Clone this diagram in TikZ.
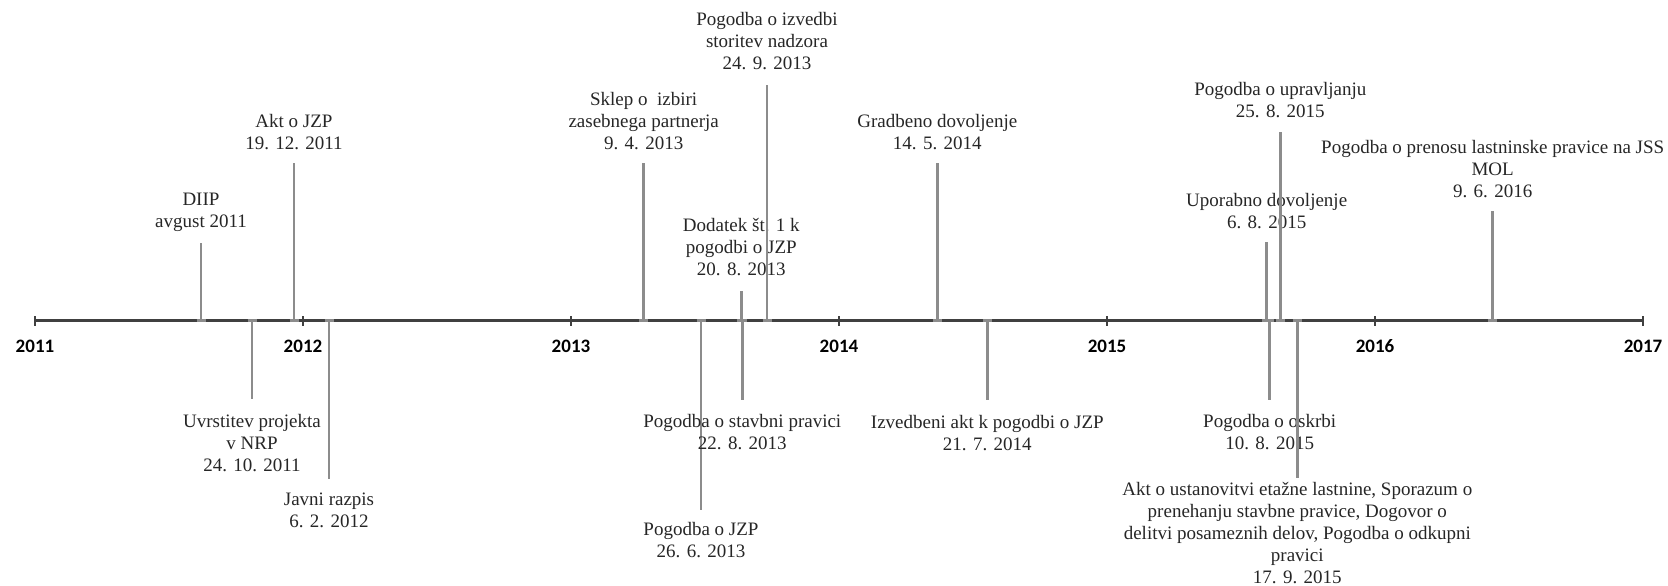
\documentclass[tikz,border=0pt]{standalone}
\usepackage{fontspec}
\setmainfont{Liberation Serif}
\newfontfamily\yearfont{Carlito}
\definecolor{axiscol}{HTML}{404040}
\definecolor{evcol}{HTML}{8C8C8C}
\definecolor{txtcol}{HTML}{262626}
\begin{document}
\begin{tikzpicture}[x=1pt,y=-1pt,
  axisline/.style={draw=axiscol,line width=2.2pt},
  yeartick/.style={draw=axiscol,line width=1.3pt},
  yearlbl/.style={font=\yearfont\bfseries\fontsize{19}{22}\selectfont,text=black,inner sep=0pt},
  evline/.style={draw=evcol,line width=2.5pt},
  evbase/.style={draw=evcol,line width=3pt},
  evlbl/.style={font=\fontsize{19}{22}\selectfont,text=txtcol,align=center,inner sep=0pt}]
\useasboundingbox (0,0) rectangle (1668,586);
% axis
\coordinate (a0) at (35,320.5);
\coordinate (a6) at (1643,320.5);
\draw[axisline] (a0) -- (a6);
\foreach \k/\yr in {0/2011,1/2012,2/2013,3/2014,4/2015,5/2016,6/2017}{
  \coordinate (y\yr) at (35+268*\k,320.5);
  \draw[yeartick] ([yshift=-5]y\yr) -- ([yshift=5]y\yr);
  \node[yearlbl] (yl\yr) at (35+268*\k,346.5) {\yr};
}
% events: name / x / line end y / label centre y / text
\foreach \n/\x/\e/\c/\t in {
  e1/201/243/211.9/{DIIP\\avgust 2011},
  e2/252/399/443.2/{Uvrstitev projekta\\v NRP\\24. 10. 2011},
  e3/294/163/132.3/{Akt o JZP\\19. 12. 2011},
  e4/329/479/510.8/{Javni razpis\\6. 2. 2012},
  e5/643.7/163/121.2/{Sklep o~ izbiri\\zasebnega partnerja\\9. 4. 2013},
  e6/701/510/540/{Pogodba o JZP\\26. 6. 2013},
  e7/741.3/291/247.2/{Dodatek št. 1 k\\pogodbi o JZP\\20. 8. 2013},
  e8/742.3/400/432.5/{Pogodba o stavbni pravici\\22. 8. 2013},
  e9/767/84.5/41/{Pogodba o izvedbi\\storitev nadzora\\24. 9. 2013},
  e10/937.3/163/131.7/{Gradbeno dovoljenje\\14. 5. 2014},
  e11/987.3/400/432.8/{Izvedbeni akt k pogodbi o JZP\\21. 7. 2014},
  e12/1266.7/242/211.5/{Uporabno dovoljenje\\6. 8. 2015},
  e13/1269.7/400/432.3/{Pogodba o oskrbi\\10. 8. 2015},
  e14/1280.3/131.5/100.4/{Pogodba o upravljanju\\25. 8. 2015},
  e15/1297.3/478/533.1/{Akt o ustanovitvi etažne lastnine, Sporazum o\\prenehanju stavbne pravice, Dogovor o\\delitvi posameznih delov, Pogodba o odkupni\\pravici\\17. 9. 2015},
  e16/1492.7/211/168.6/{Pogodba o prenosu lastninske pravice na JSS\\MOL\\9. 6. 2016}}{
  \coordinate (\n-a) at (\x,320.5);
  \coordinate (\n-e) at (\x,\e);
  \node[evlbl] (\n) at (\x,\c) {\t};
  \draw[evline] (\n-a) -- (\n-e);
  \draw[evbase] ([xshift=-4.5]\n-a) -- ([xshift=4.5]\n-a);
}
\end{tikzpicture}
\end{document}
